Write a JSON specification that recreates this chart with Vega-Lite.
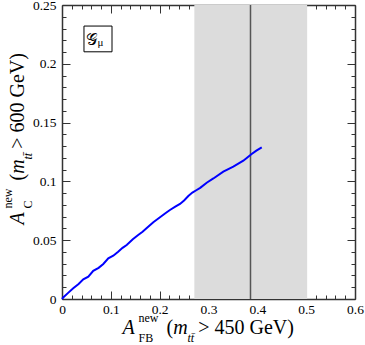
{
  "$schema": "https://vega.github.io/schema/vega-lite/v6.json",
  "width": 293,
  "height": 294,
  "autosize": "none",
  "padding": {"left": 62, "top": 5, "right": 10, "bottom": 46},
  "background": "white",
  "config": {
    "view": {"stroke": null},
    "axis": {
      "labelFont": "Liberation Serif",
      "labelFontSize": 13.5,
      "labelColor": "black",
      "titleFont": "Liberation Serif",
      "titleFontSize": 20,
      "titleFontWeight": "normal",
      "titleColor": "black",
      "tickColor": "#333333",
      "tickWidth": 1,
      "domainColor": "#333333",
      "domainWidth": 1.5,
      "grid": false,
      "zindex": 1
    }
  },
  "datasets": {
    "curve": [
      {"afb": 0, "ac": 0}, {"afb": 0.003, "ac": 0.0015}, {"afb": 0.012, "ac": 0.005}, {"afb": 0.023, "ac": 0.0091},
      {"afb": 0.034, "ac": 0.0128}, {"afb": 0.0436, "ac": 0.0167}, {"afb": 0.0539, "ac": 0.019}, {"afb": 0.064, "ac": 0.024},
      {"afb": 0.075, "ac": 0.0265}, {"afb": 0.0846, "ac": 0.0298}, {"afb": 0.0948, "ac": 0.0346}, {"afb": 0.105, "ac": 0.0368},
      {"afb": 0.115, "ac": 0.0402}, {"afb": 0.124, "ac": 0.0435}, {"afb": 0.1325, "ac": 0.0459}, {"afb": 0.145, "ac": 0.0508},
      {"afb": 0.156, "ac": 0.0544}, {"afb": 0.165, "ac": 0.0572}, {"afb": 0.173, "ac": 0.0601}, {"afb": 0.187, "ac": 0.0652},
      {"afb": 0.2007, "ac": 0.0695}, {"afb": 0.211, "ac": 0.0727}, {"afb": 0.221, "ac": 0.0757}, {"afb": 0.232, "ac": 0.0785},
      {"afb": 0.2416, "ac": 0.0808}, {"afb": 0.25, "ac": 0.0838}, {"afb": 0.2587, "ac": 0.0876}, {"afb": 0.267, "ac": 0.0905},
      {"afb": 0.2758, "ac": 0.0927}, {"afb": 0.283, "ac": 0.0945}, {"afb": 0.2963, "ac": 0.0989}, {"afb": 0.31, "ac": 0.1025},
      {"afb": 0.3303, "ac": 0.1083}, {"afb": 0.3508, "ac": 0.1125}, {"afb": 0.3713, "ac": 0.1176}, {"afb": 0.3884, "ac": 0.1233},
      {"afb": 0.398, "ac": 0.1262}, {"afb": 0.409, "ac": 0.129}
    ],
    "band": [{"lo": 0.271, "hi": 0.502}],
    "central": [{"afb": 0.386}],
    "label": [{"name": "G_mu"}]
  },
  "resolve": {"axis": {"x": "independent", "y": "independent"}},
  "layer": [
    {
      "data": {"name": "band"},
      "mark": {"type": "rect", "color": "#dcdcdc"},
      "encoding": {
        "x": {
          "field": "lo", "type": "quantitative",
          "scale": {"domain": [0, 0.6], "nice": false, "zero": false},
          "axis": {
            "orient": "bottom",
            "values": [0, 0.02, 0.04, 0.06, 0.08, 0.1, 0.12, 0.14, 0.16, 0.18, 0.2, 0.22, 0.24, 0.26, 0.28, 0.3, 0.32, 0.34, 0.36, 0.38, 0.4, 0.42, 0.44, 0.46, 0.48, 0.5, 0.52, 0.54, 0.56, 0.58, 0.6],
            "labelExpr": "abs(datum.value*10-round(datum.value*10))<0.001 ? format(datum.value,'~g') : ''",
            "tickSize": {"condition": {"test": "abs(datum.value*10-round(datum.value*10))<0.001", "value": -8}, "value": -4},
            "labelFont": "Liberation Serif",
            "labelFontSize": 13.5,
            "labelPadding": 11,
            "labelOverlap": false,
            "labelFlush": false,
            "labelBaseline": "top",
            "domain": true,
            "title": "A",
            "titleFontStyle": "italic",
            "titleX": 60, "titleY": 34,
            "titleAlign": "left", "titleAnchor": "start", "titleBaseline": "alphabetic"
          }
        },
        "x2": {"field": "hi"},
        "y": {
          "datum": 0, "type": "quantitative",
          "scale": {"domain": [0, 0.25], "nice": false, "zero": false},
          "axis": {
            "orient": "left", "ticks": false, "labels": false, "domain": false,
            "title": "tt\u0304", "titleFontSize": 12, "titleFontStyle": "italic",
            "titleAngle": 270, "titleX": -31, "titleY": 154,
            "titleAlign": "left", "titleAnchor": "start", "titleBaseline": "alphabetic"
          }
        },
        "y2": {"datum": 0.25}
      }
    },
    {
      "data": {"name": "central"},
      "mark": {"type": "rule", "color": "#555555", "strokeWidth": 1.5},
      "encoding": {
        "x": {
          "field": "afb", "type": "quantitative",
          "scale": {"domain": [0, 0.6], "nice": false, "zero": false},
          "axis": {
            "orient": "top",
            "values": [0, 0.02, 0.04, 0.06, 0.08, 0.1, 0.12, 0.14, 0.16, 0.18, 0.2, 0.22, 0.24, 0.26, 0.28, 0.3, 0.32, 0.34, 0.36, 0.38, 0.4, 0.42, 0.44, 0.46, 0.48, 0.5, 0.52, 0.54, 0.56, 0.58, 0.6],
            "tickSize": {"condition": {"test": "abs(datum.value*10-round(datum.value*10))<0.001", "value": -8}, "value": -4},
            "labels": false,
            "domain": true,
            "title": null
          }
        },
        "y": {
          "datum": 0, "type": "quantitative",
          "scale": {"domain": [0, 0.25], "nice": false, "zero": false},
          "axis": {
            "orient": "right",
            "values": [0, 0.01, 0.02, 0.03, 0.04, 0.05, 0.06, 0.07, 0.08, 0.09, 0.1, 0.11, 0.12, 0.13, 0.14, 0.15, 0.16, 0.17, 0.18, 0.19, 0.2, 0.21, 0.22, 0.23, 0.24, 0.25],
            "tickSize": {"condition": {"test": "abs(datum.value*20-round(datum.value*20))<0.001", "value": -8}, "value": -4},
            "labels": false,
            "domain": true,
            "title": null
          }
        },
        "y2": {"datum": 0.25}
      }
    },
    {
      "data": {"name": "curve"},
      "mark": {"type": "line", "color": "#0000ff", "strokeWidth": 2},
      "encoding": {
        "x": {
          "field": "afb", "type": "quantitative",
          "scale": {"domain": [0, 0.6], "nice": false, "zero": false},
          "axis": {
            "orient": "bottom", "ticks": false, "labels": false, "domain": false,
            "title": ["new", "FB"], "titleFontSize": 12, "titleLineHeight": 20,
            "titleX": 76, "titleY": 22,
            "titleAlign": "left", "titleAnchor": "start", "titleBaseline": "alphabetic"
          }
        },
        "y": {
          "field": "ac", "type": "quantitative",
          "scale": {"domain": [0, 0.25], "nice": false, "zero": false},
          "axis": {
            "orient": "left",
            "values": [0, 0.01, 0.02, 0.03, 0.04, 0.05, 0.06, 0.07, 0.08, 0.09, 0.1, 0.11, 0.12, 0.13, 0.14, 0.15, 0.16, 0.17, 0.18, 0.19, 0.2, 0.21, 0.22, 0.23, 0.24, 0.25],
            "labelExpr": "abs(datum.value*20-round(datum.value*20))<0.001 ? format(datum.value,'~g') : ''",
            "tickSize": {"condition": {"test": "abs(datum.value*20-round(datum.value*20))<0.001", "value": -8}, "value": -4},
            "labelFont": "Liberation Serif",
            "labelFontSize": 13.5,
            "labelPadding": 14,
            "labelOverlap": false,
            "labelFlush": false,
            "domain": true,
            "title": "A",
            "titleFontStyle": "italic",
            "titleAngle": 270, "titleX": -39, "titleY": 219,
            "titleAlign": "left", "titleAnchor": "start", "titleBaseline": "alphabetic"
          }
        }
      }
    },
    {
      "data": {"name": "label"},
      "mark": {"type": "rect", "fill": "white", "stroke": "black", "strokeWidth": 1},
      "encoding": {
        "x": {
          "datum": 0.045, "type": "quantitative",
          "scale": {"domain": [0, 0.6], "nice": false, "zero": false},
          "axis": {
            "orient": "bottom", "ticks": false, "labels": false, "domain": false,
            "title": "(\u00a0\u00a0\u00a0\u00a0\u00a0> 450 GeV)",
            "titleX": 104, "titleY": 34,
            "titleAlign": "left", "titleAnchor": "start", "titleBaseline": "alphabetic"
          }
        },
        "x2": {"datum": 0.1024},
        "y": {
          "datum": 0.2102, "type": "quantitative",
          "scale": {"domain": [0, 0.25], "nice": false, "zero": false},
          "axis": {
            "orient": "left", "ticks": false, "labels": false, "domain": false,
            "title": ["new", "C"], "titleFontSize": 12, "titleLineHeight": 20,
            "titleAngle": 270, "titleX": -51, "titleY": 203,
            "titleAlign": "left", "titleAnchor": "start", "titleBaseline": "alphabetic"
          }
        },
        "y2": {"datum": 0.2321}
      }
    },
    {
      "data": {"name": "label"},
      "mark": {"type": "text", "text": "𝒢", "font": "DejaVu Serif", "fontSize": 16, "align": "center", "baseline": "alphabetic", "color": "black"},
      "encoding": {
        "x": {
          "datum": 0.0614, "type": "quantitative",
          "scale": {"domain": [0, 0.6], "nice": false, "zero": false},
          "axis": {
            "orient": "bottom", "ticks": false, "labels": false, "domain": false,
            "title": "m", "titleFontStyle": "italic",
            "titleX": 110.7, "titleY": 34,
            "titleAlign": "left", "titleAnchor": "start", "titleBaseline": "alphabetic"
          }
        },
        "y": {
          "datum": 0.216, "type": "quantitative",
          "scale": {"domain": [0, 0.25], "nice": false, "zero": false},
          "axis": {
            "orient": "left", "ticks": false, "labels": false, "domain": false,
            "title": "(\u00a0\u00a0\u00a0\u00a0\u00a0> 600 GeV)",
            "titleAngle": 270, "titleX": -39, "titleY": 175,
            "titleAlign": "left", "titleAnchor": "start", "titleBaseline": "alphabetic"
          }
        }
      }
    },
    {
      "data": {"name": "label"},
      "mark": {"type": "text", "text": "μ", "font": "Liberation Serif", "fontSize": 11, "align": "left", "baseline": "alphabetic", "color": "black"},
      "encoding": {
        "x": {
          "datum": 0.0725, "type": "quantitative",
          "scale": {"domain": [0, 0.6], "nice": false, "zero": false},
          "axis": {
            "orient": "bottom", "ticks": false, "labels": false, "domain": false,
            "title": "tt\u0304", "titleFontSize": 12, "titleFontStyle": "italic",
            "titleX": 125, "titleY": 42,
            "titleAlign": "left", "titleAnchor": "start", "titleBaseline": "alphabetic"
          }
        },
        "y": {
          "datum": 0.2151, "type": "quantitative",
          "scale": {"domain": [0, 0.25], "nice": false, "zero": false},
          "axis": {
            "orient": "left", "ticks": false, "labels": false, "domain": false,
            "title": "m", "titleFontStyle": "italic",
            "titleAngle": 270, "titleX": -39, "titleY": 168.3,
            "titleAlign": "left", "titleAnchor": "start", "titleBaseline": "alphabetic"
          }
        }
      }
    }
  ]
}
